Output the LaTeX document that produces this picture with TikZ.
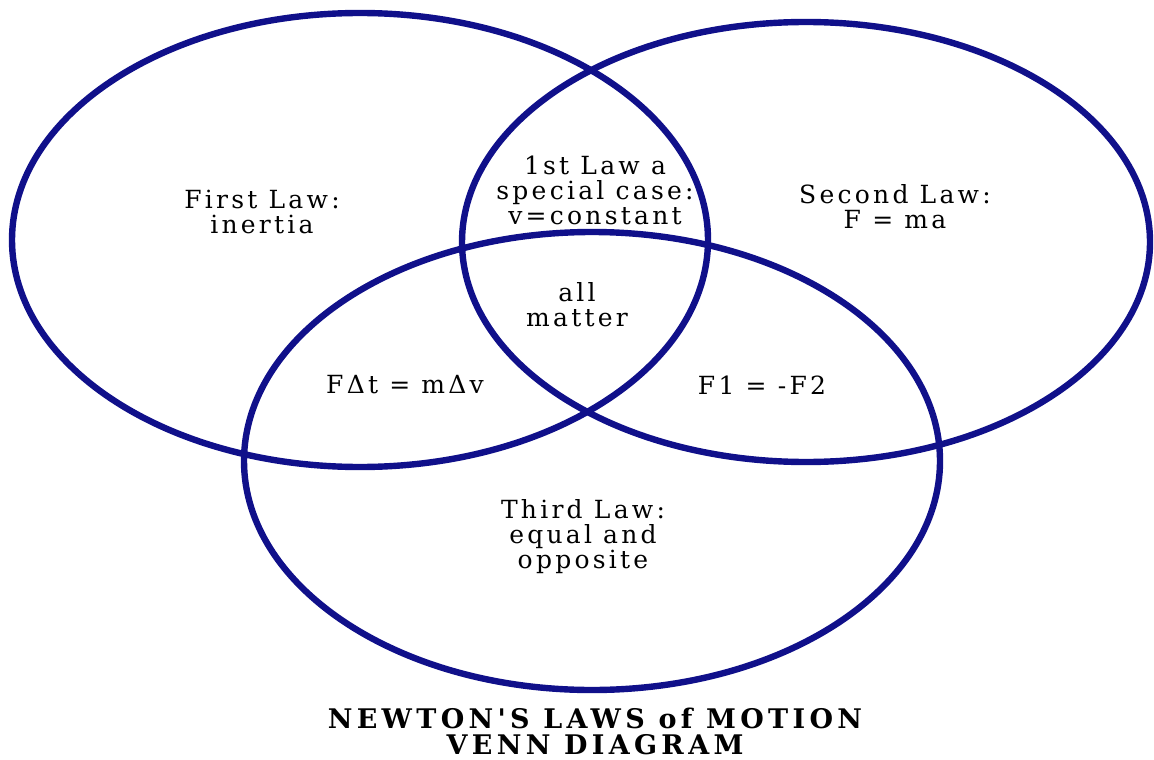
\documentclass[tikz,border=0pt]{standalone}
\usepackage{fontspec}
\setmainfont{DejaVu Serif}[LetterSpace=13]
\newfontfamily\titlefont{DejaVu Serif}[LetterSpace=16,Ligatures=TeXOff]
\definecolor{venn}{RGB}{16,16,138}
\begin{document}
\begin{tikzpicture}[x=0.5pt,y=-0.5pt,
  ring/.style={draw=venn,line width=3.2pt},
  lbl/.style={align=center,inner sep=0pt,font=\fontsize{12.5}{12.5}\selectfont},
  ttl/.style={align=center,inner sep=0pt,font=\titlefont\fontsize{13.5}{13}\selectfont\bfseries}]
\useasboundingbox[fill=white] (0,0) rectangle (1154,759);
\coordinate (cL) at (360,240);
\coordinate (cR) at (806,242);
\coordinate (cB) at (592,461);
\draw[ring] (cL) ellipse [x radius=174pt, y radius=113.5pt];
\draw[ring] (cR) ellipse [x radius=172pt, y radius=110pt];
\draw[ring] (cB) ellipse [x radius=174pt, y radius=114.5pt];
\node[lbl] (first) at (262,212) {First Law:\\inertia};
\node[lbl] (special) at (595,190) {1st Law a\\special case:\\v=constant};
\node[lbl] (second) at (895,207) {Second Law:\\F = ma};
\node[lbl] (all) at (577,305) {all\\matter};
\node[lbl] (impulse) at (405,385) {FΔt = mΔv};
\node[lbl] (action) at (762,385) {F1 = -F2};
\node[lbl] (third) at (583,537) {Third Law:\\equal and\\opposite};
\node[ttl] (title) at (595,731) {NEWTON'S LAWS of MOTION\\VENN DIAGRAM};
\end{tikzpicture}
\end{document}
